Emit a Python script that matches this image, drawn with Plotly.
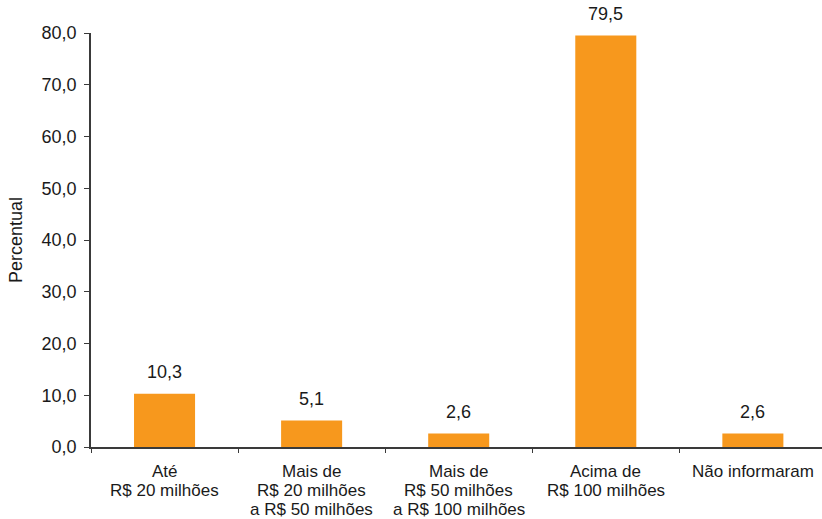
import plotly.graph_objects as go

categories = ["Até", "Mais de R$ 20 a R$ 50", "Mais de R$ 50 a R$ 100", "Acima de", "Não informaram"]
category_lines = [
    ["Até", "R$ 20 milhões"],
    ["Mais de", "R$ 20 milhões", "a R$ 50 milhões"],
    ["Mais de", "R$ 50 milhões", "a R$ 100 milhões"],
    ["Acima de", "R$ 100 milhões"],
    ["Não informaram"],
]
values = [10.3, 5.1, 2.6, 79.5, 2.6]
labels = ["10,3", "5,1", "2,6", "79,5", "2,6"]

font = dict(family="Liberation Sans, Arial, sans-serif", size=18, color="#1a1a1a")
cat_font = dict(family="Liberation Sans, Arial, sans-serif", size=17, color="#1a1a1a")

fig = go.Figure(go.Bar(x=categories, y=values, marker=dict(color="#F7981D", line=dict(width=0)),
                       hoverinfo="skip"))

for c, v, t in zip(categories, values, labels):
    fig.add_annotation(x=c, y=v, text=t, showarrow=False, yanchor="middle", yshift=22,
                       font=font)

for c, lines in zip(categories, category_lines):
    for i, line in enumerate(lines):
        fig.add_annotation(x=c, y=0, text=line, showarrow=False, yanchor="middle",
                           yshift=-(24 + 19 * i), font=cat_font, borderpad=0)

fig.update_layout(
    width=822, height=519,
    margin=dict(l=91, r=0, t=33, b=72),
    paper_bgcolor="white", plot_bgcolor="white",
    font=font,
    bargap=0.585,
    showlegend=False,
    separators=",.",
    xaxis=dict(range=[-0.5, 4.47], showline=True, linecolor="#3a3a3a", linewidth=1.5,
               ticks="outside", tickson="boundaries",
               ticklen=4, tickcolor="#3a3a3a", showgrid=False, showticklabels=False, automargin=False),
    yaxis=dict(range=[0, 80], dtick=10, tickformat=".1f", showline=True, linecolor="#3a3a3a",
               linewidth=1.5, ticks="outside", ticklen=5, tickcolor="#3a3a3a", showgrid=False,
               zeroline=False, tickfont=font, automargin=False, ticklabelstandoff=4,
               title=dict(text="Percentual", font=font, standoff=14)),
)

fig.write_html("out.html", config={"displayModeBar": False},
               post_script="document.body.style.margin='0';")
